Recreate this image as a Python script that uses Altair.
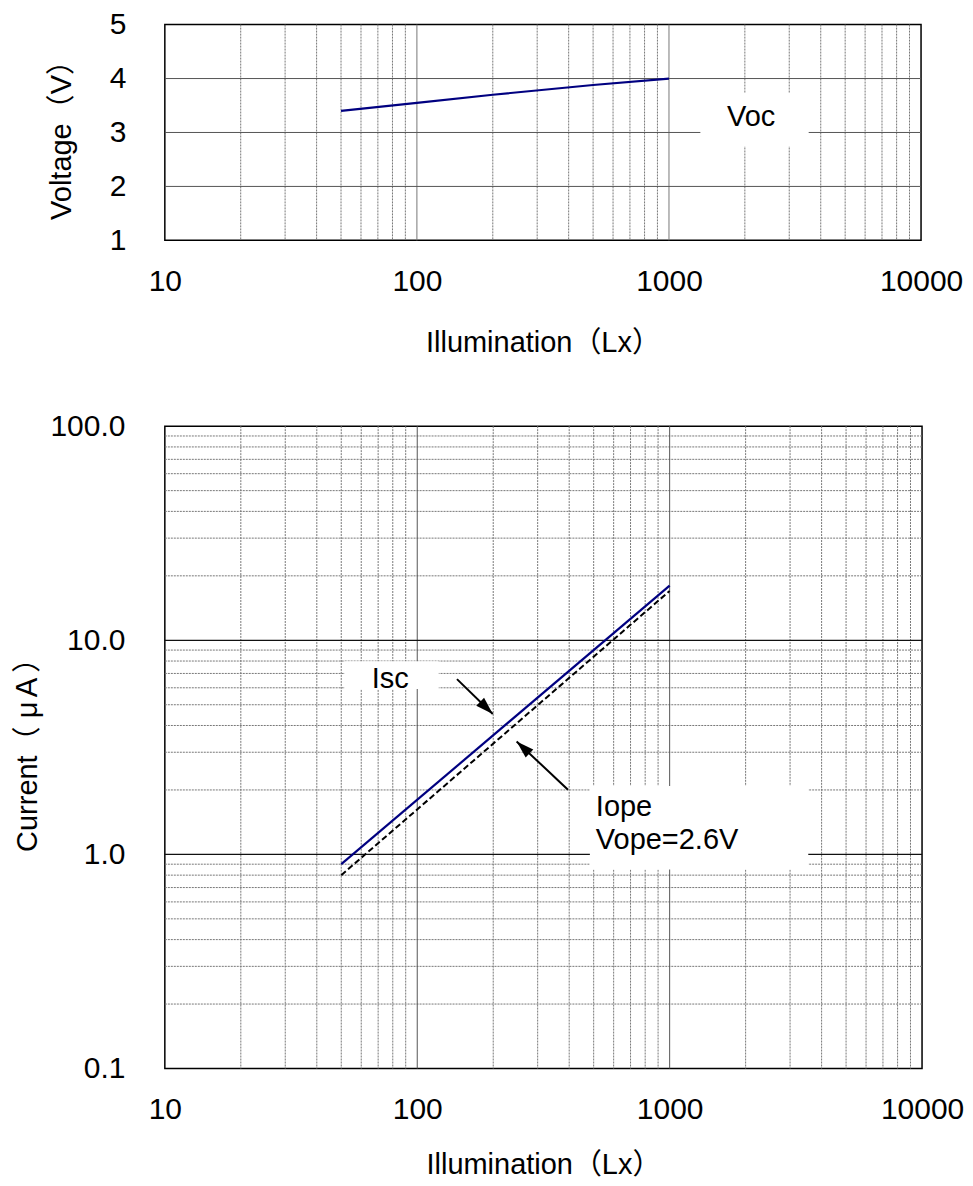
import altair as alt
import pandas as pd

FONT = "'Liberation Sans', 'Noto Sans CJK JP', sans-serif"
FS_TICK = 30
FS_TITLE = 29
FS_NOTE = 29

# ---------------- data ----------------
voc_lux = [50, 100, 200, 500, 1000]
voc_v = [3.4, 3.55, 3.7, 3.88, 4.0]

isc_lux = [50, 1000]
isc_ua = [0.9, 18.0]

iope_lux = [50, 1000]
iope_ua = [0.8, 17.0]

x_label_values = [10, 100, 1000, 10000]
v_label_values = [1, 2, 3, 4, 5]
i_label_values = [0.1, 1.0, 10.0, 100.0]

# grid positions (axis ticks)
x_major_grid = [100, 1000]
x_minor_grid = [k * 10 ** e for e in (1, 2, 3) for k in range(2, 10)]
v_major_grid = [2, 3, 4]
i_major_grid = [1.0, 10.0]
i_minor_grid = [round(k * 10.0 ** e, 3) for e in (-1, 0, 1) for k in range(2, 10)]

# annotations (data units)
voc_box = {"x1": [1332], "x2": [3583], "y1": [3.733], "y2": [2.738]}
voc_text = {"x": [2117], "y": [3.29], "t": ["Voc"]}

isc_box = {"x1": [51.5], "x2": [121.7], "y1": [7.98], "y2": [5.92]}
isc_text = {"x": [78.1], "y": [6.59], "t": ["Isc"]}
iope_box = {"x1": [483], "x2": [3542], "y1": [2.087], "y2": [0.849]}
iope_text = {"x": [510, 510], "y": [1.667, 1.17], "t": ["Iope", "Vope=2.6V"]}

arrow_x1 = [143.7, 395.6]
arrow_y1 = [6.586, 2.006]
arrow_x2 = [199.2, 247.6]
arrow_y2 = [4.527, 3.369]
arrow_ang = [134.2, 313.1]

# ---------------- scales / axes ----------------
xs = alt.Scale(type="log", domain=[10, 10000], nice=False)
vs = alt.Scale(type="linear", domain=[1, 5], nice=False, zero=False)
ys = alt.Scale(type="log", domain=[0.1, 100], nice=False)

common_axis = dict(
    grid=False, ticks=False, tickSize=0, domain=False,
    labelFont=FONT, titleFont=FONT, labelFontSize=FS_TICK, titleFontSize=FS_TITLE,
    labelColor="black", titleColor="black", titleFontWeight="normal",
    labelFlush=False, labelOverlap=False,
)

X_AXIS_TOP = alt.Axis(values=x_label_values, format="d", title="Illumination（Lx）",
                      labelPadding=26, titlePadding=32, **common_axis)
X_AXIS_BOT = alt.Axis(values=x_label_values, format="d", title="Illumination（Lx）",
                      labelPadding=26, titlePadding=26, **common_axis)
V_AXIS = alt.Axis(values=v_label_values, format="d", title="Voltage（V）",
                  labelPadding=39, titlePadding=33, **common_axis)
I_AXIS = alt.Axis(values=i_label_values, format=".1f", title="Current（ μＡ）",
                  labelPadding=40, titlePadding=7, **common_axis)

MINOR = dict(color="#777777", strokeWidth=1, strokeDash=[2, 1])


def vrules(vals, xaxis, **style):
    return alt.Chart(pd.DataFrame({"g": vals})).mark_rule(**style).encode(
        x=alt.X("g:Q", scale=xs, axis=xaxis))


def hrules(vals, scale, yaxis, **style):
    return alt.Chart(pd.DataFrame({"g": vals})).mark_rule(**style).encode(
        y=alt.Y("g:Q", scale=scale, axis=yaxis))


def box(d, scale, xaxis, yaxis):
    return alt.Chart(pd.DataFrame(d)).mark_rect(fill="white").encode(
        x=alt.X("x1:Q", scale=xs, axis=xaxis), x2="x2:Q",
        y=alt.Y("y1:Q", scale=scale, axis=yaxis), y2="y2:Q")


def label(d, scale, xaxis, yaxis, align="center", size=FS_NOTE):
    return alt.Chart(pd.DataFrame(d)).mark_text(
        font=FONT, fontSize=size, align=align, baseline="middle", color="black"
    ).encode(x=alt.X("x:Q", scale=xs, axis=xaxis),
             y=alt.Y("y:Q", scale=scale, axis=yaxis), text="t:N")


# ---------------- top chart: Voc ----------------
voc_df = pd.DataFrame({"lux": voc_lux, "v": voc_v})
voc_line = alt.Chart(voc_df).mark_line(color="#000080", strokeWidth=2.2).encode(
    x=alt.X("lux:Q", scale=xs, axis=X_AXIS_TOP),
    y=alt.Y("v:Q", scale=vs, axis=V_AXIS))

top = alt.layer(
    vrules(x_minor_grid, X_AXIS_TOP, **MINOR),
    vrules(x_major_grid, X_AXIS_TOP, color="#777", strokeWidth=1),
    hrules(v_major_grid, vs, V_AXIS, color="#555", strokeWidth=1),
    box(voc_box, vs, X_AXIS_TOP, V_AXIS),
    voc_line,
    label(voc_text, vs, X_AXIS_TOP, V_AXIS),
).properties(width=757, height=216)

# ---------------- bottom chart: currents ----------------
cur_df = pd.DataFrame({
    "lux": isc_lux + iope_lux,
    "ua": isc_ua + iope_ua,
    "s": ["Isc"] * len(isc_lux) + ["Iope"] * len(iope_lux),
})

XB = X_AXIS_BOT

isc_line = alt.Chart(cur_df).transform_filter(alt.datum.s == "Isc").mark_line(
    color="#000080", strokeWidth=2.2).encode(
    x=alt.X("lux:Q", scale=xs, axis=XB),
    y=alt.Y("ua:Q", scale=ys, axis=I_AXIS))

iope_line = alt.Chart(cur_df).transform_filter(alt.datum.s == "Iope").mark_line(
    color="black", strokeWidth=2, strokeDash=[6, 3]).encode(
    x=alt.X("lux:Q", scale=xs, axis=XB),
    y=alt.Y("ua:Q", scale=ys, axis=I_AXIS))

arrow_df = pd.DataFrame({"x1": arrow_x1, "y1": arrow_y1, "x2": arrow_x2,
                         "y2": arrow_y2, "ang": arrow_ang})
arrow_shaft = alt.Chart(arrow_df).mark_rule(color="black", strokeWidth=2).encode(
    x=alt.X("x1:Q", scale=xs, axis=XB), x2="x2:Q",
    y=alt.Y("y1:Q", scale=ys, axis=I_AXIS), y2="y2:Q")
arrow_head = alt.Chart(arrow_df).mark_point(
    shape="M0,0L-0.7,2.2L0.7,2.2Z", filled=True, size=256, color="black", opacity=1
).encode(x=alt.X("x2:Q", scale=xs, axis=XB),
         y=alt.Y("y2:Q", scale=ys, axis=I_AXIS),
         angle=alt.Angle("ang:Q", scale=None))

bottom = alt.layer(
    vrules(x_minor_grid, XB, **MINOR),
    hrules(i_minor_grid, ys, I_AXIS, **MINOR),
    vrules(x_major_grid, XB, color="#555", strokeWidth=1),
    hrules(i_major_grid, ys, I_AXIS, color="#111", strokeWidth=1.2),
    box(isc_box, ys, XB, I_AXIS),
    box(iope_box, ys, XB, I_AXIS),
    iope_line,
    isc_line,
    arrow_shaft,
    arrow_head,
    label(isc_text, ys, XB, I_AXIS),
    label(iope_text, ys, XB, I_AXIS, align="left", size=29),
).properties(width=758, height=643)

chart = alt.vconcat(
    top, bottom, spacing=52,
    padding={"left": 5, "top": 0, "right": 0, "bottom": 0},
).configure_view(stroke="black", strokeWidth=1.5)

chart.save("out.html", embed_options={"renderer": "svg", "actions": False})
